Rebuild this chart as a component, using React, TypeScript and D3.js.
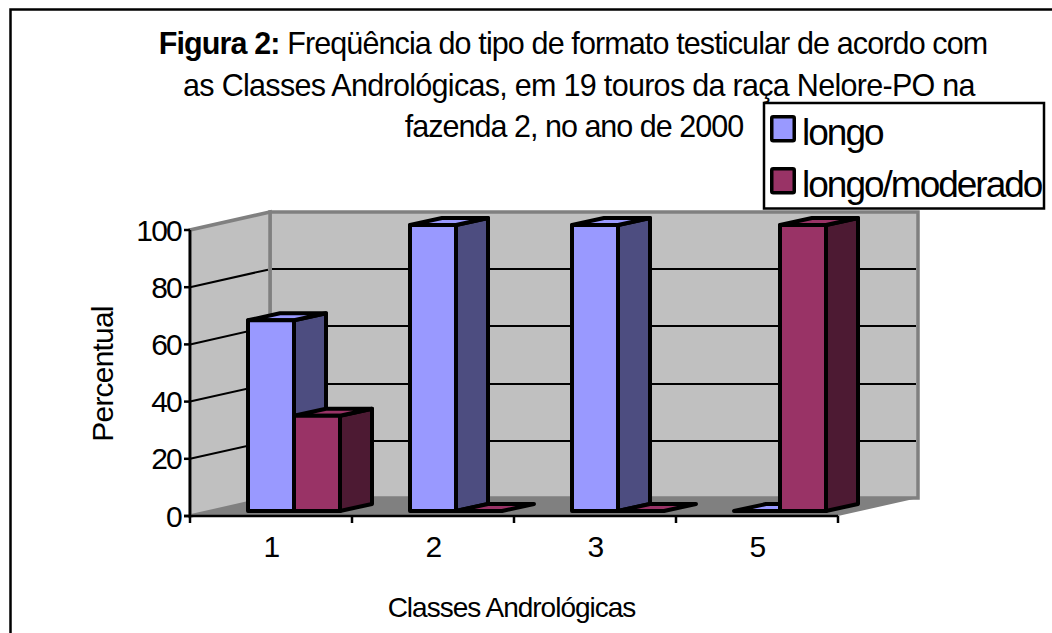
import React from "react";
import * as d3 from "d3";

const categories = ["1", "2", "3", "5"];
const seriesNames = ["longo", "longo/moderado"];
const longo = [66.67, 100, 100, 0];
const longoModerado = [33.33, 0, 0, 100];
const yTicks = [0, 20, 40, 60, 80, 100];

const W = 1052, H = 633;
const FONT = "'Liberation Sans', Arial, sans-serif";
const x0 = d3.scaleBand<string>().domain(categories).range([190, 838]);
const y = d3.scaleLinear().domain([0, 100]).range([516, 230]);
const floorD = { dx: 80, dy: -18 };
const barOff = { dx: 23, dy: -5 };
const barD = { dx: 32, dy: -7 };
const barW = 46;
const colors = [
  { front: "#9999FF", side: "#4D4D80" },
  { front: "#993366", side: "#4D1A33" },
];
const pts = (a: number[][]) => a.map((p) => p.join(",")).join(" ");

function Bar({ cat, idx, value }: { cat: string; idx: number; value: number }) {
  const c = (x0(cat) as number) + x0.bandwidth() / 2 + barOff.dx;
  const xl = c + (idx - 1) * barW;
  const xr = xl + barW;
  const yb = y(0) + barOff.dy;
  const yt = y(value) + barOff.dy;
  const col = colors[idx];
  const s = { stroke: "#000", strokeWidth: 4, strokeLinejoin: "round" as const };
  return (
    <g>
      {value > 0 && (
        <polygon points={pts([[xr, yb], [xr + barD.dx, yb + barD.dy], [xr + barD.dx, yt + barD.dy], [xr, yt]])} fill={col.side} {...s} />
      )}
      <polygon points={pts([[xl, yt], [xl + barD.dx, yt + barD.dy], [xr + barD.dx, yt + barD.dy], [xr, yt]])} fill={col.front} {...s} />
      {value > 0 && <rect x={xl} y={yt} width={barW} height={yb - yt} fill={col.front} {...s} />}
    </g>
  );
}

export default function App() {
  const xL = x0.range()[0], xR = x0.range()[1];
  const dx = floorD.dx, dy = floorD.dy;
  const bars = categories.flatMap((cat, i) => [
    { cat, idx: 0, value: longo[i] },
    { cat, idx: 1, value: longoModerado[i] },
  ]);
  const ticks = [...categories.map((c) => x0(c) as number), xR];
  return (
    <svg width={W} height={H} style={{ position: "absolute", left: 0, top: 0, background: "#fff" }} fontFamily={FONT}>
      <rect x={10.5} y={9.5} width={1100} height={H} fill="#fff" stroke="#000" strokeWidth={2.5} />
      {/* walls */}
      <polygon points={pts([[xL + dx, y(0) + dy], [xR + dx, y(0) + dy], [xR + dx, y(100) + dy], [xL + dx, y(100) + dy]])} fill="#C0C0C0" stroke="#808080" strokeWidth={3.5} />
      <polygon points={pts([[xL, y(0)], [xL + dx, y(0) + dy], [xL + dx, y(100) + dy], [xL, y(100)]])} fill="#C0C0C0" stroke="#808080" strokeWidth={3.5} />
      <polygon points={pts([[xL, y(0)], [xR, y(0)], [xR + dx, y(0) + dy], [xL + dx, y(0) + dy]])} fill="#808080" />
      {/* gridlines */}
      {yTicks.filter((t) => t > 0 && t < 100).map((t) => (
        <g key={t} stroke="#000" strokeWidth={2} fill="none">
          <line x1={xL} y1={y(t)} x2={xL + dx - 2} y2={y(t) + dy + 0.5} />
          <line x1={xL + dx + 2} y1={Math.round(y(t) + dy)} x2={xR + dx - 2} y2={Math.round(y(t) + dy)} />
        </g>
      ))}
      {/* axes */}
      <g stroke="#000" strokeWidth={2.5}>
        <line x1={xL} y1={y(100)} x2={xL} y2={y(0) + 1} />
        <line x1={xL - 6} y1={y(0)} x2={xR} y2={y(0)} />
        {yTicks.map((t) => <line key={t} x1={xL - 6} x2={xL} y1={y(t)} y2={y(t)} />)}
        {ticks.map((t) => <line key={t} x1={t} x2={t} y1={y(0)} y2={y(0) + 7} />)}
      </g>
      {bars.map((b) => <Bar key={b.cat + b.idx} {...b} />)}
      {/* tick labels */}
      <g fontSize={30} letterSpacing={-1.8} fill="#000">
        {yTicks.map((t) => <text key={t} x={xL - 9} y={y(t) + 10.5} textAnchor="end">{t}</text>)}
        {categories.map((c) => <text key={c} x={(x0(c) as number) + x0.bandwidth() / 2} y={556.5} textAnchor="middle">{c}</text>)}
      </g>
      <text x={511.5} y={617} fontSize={28} letterSpacing={-1} textAnchor="middle">Classes Andrológicas</text>
      <text transform="translate(113,374) rotate(-90)" fontSize={30} letterSpacing={-0.8} textAnchor="middle">Percentual</text>
      {/* title */}
      <g fontSize={30.5} textAnchor="middle">
        <text x={573} y={54} letterSpacing={-0.88}><tspan fontWeight="bold">Figura 2:</tspan> Freqüência do tipo de formato testicular de acordo com</text>
        <text x={579} y={96} letterSpacing={-0.7}>as Classes Andrológicas, em 19 touros da raça Nelore-PO na</text>
        <text x={574} y={137} letterSpacing={-0.98}>fazenda 2, no ano de 2000</text>
      </g>
      {/* legend */}
      <rect x={764} y={103} width={280} height={105.5} fill="#fff" stroke="#000" strokeWidth={2.5} />
      {seriesNames.map((n, i) => (
        <g key={n}>
          <rect x={771.75} y={116.75 + i * 52} width={22.5} height={24} rx={1.5} fill={colors[i].front} stroke="#000" strokeWidth={3.5} />
          <text x={802} y={145 + i * 52} fontSize={37} letterSpacing={-2}>{n}</text>
        </g>
      ))}
    </svg>
  );
}
